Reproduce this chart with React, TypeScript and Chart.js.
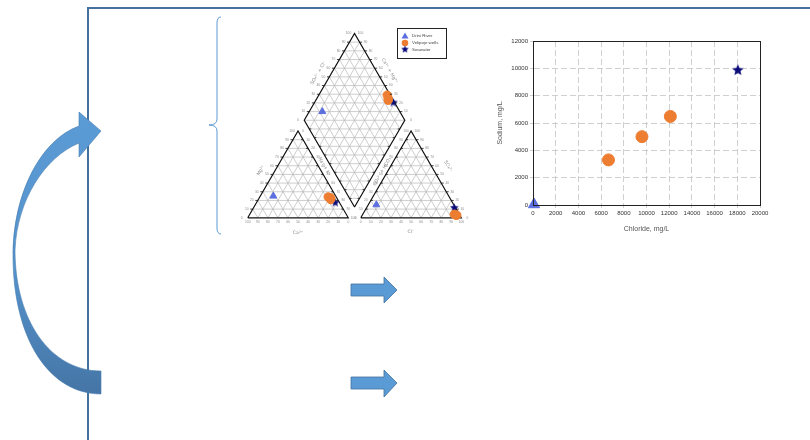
import React, { useEffect, useRef } from "react";
import { Chart, registerables } from "chart.js";
Chart.register(...registerables);

// ---------- series ----------
const seriesNames = ["Drini River", "Velipoje wells", "Seawater"];
const seriesColors = ["#5b6fe0", "#ed7d31", "#0b0b7a"];

// ---------- scatter: chloride vs sodium (mg/L) ----------
const driniChloride = [90];
const driniSodium = [40];
const wellsChloride = [6650, 9600, 12100];
const wellsSodium = [3300, 5000, 6480];
const seaChloride = [18050];
const seaSodium = [9900];
const chlorideTicks = [0, 2000, 4000, 6000, 8000, 10000, 12000, 14000, 16000, 18000, 20000];
const sodiumTicks = [0, 2000, 4000, 6000, 8000, 10000, 12000];

// ---------- piper (% meq/L) ----------
const driniCa = [62];
const driniMg = [25];
const driniNaK = [13];
const driniHCO3 = [77];
const driniSO4 = [15];
const driniCl = [8];

const wellsCa = [6, 7, 8];
const wellsMg = [23, 21, 24];
const wellsNaK = [71, 72, 68];
const wellsHCO3 = [4, 5, 3];
const wellsSO4 = [3, 4, 3];
const wellsCl = [93, 91, 94];

const seaCa = [4];
const seaMg = [18];
const seaNaK = [78];
const seaHCO3 = [1];
const seaSO4 = [12];
const seaCl = [87];

const pctTicks = [0, 10, 20, 30, 40, 50, 60, 70, 80, 90, 100];

// ---------- piper geometry ----------
const GAP = 0.124;
const X0 = 1 + GAP;
const S = Math.sqrt(3) / 2;

function cat(ca: number, mg: number, nak: number) {
  const t = ca + mg + nak;
  return { x: (nak + 0.5 * mg) / t, y: (S * mg) / t };
}
function an(hco3: number, so4: number, cl: number) {
  const t = hco3 + so4 + cl;
  return { x: X0 + (cl + 0.5 * so4) / t, y: (S * so4) / t };
}
function dia(nak: number, clso4: number) {
  const a = nak / 100;
  const b = clso4 / 100;
  return { x: (a + X0 + b) / 2, y: (X0 + b - a) * S };
}

function segs(pairs: any[]) {
  const out: any[] = [];
  pairs.forEach(([a, b]) => {
    out.push(a, b, { x: NaN, y: NaN });
  });
  return out;
}

function makeStar(size: number, color: string) {
  const c = document.createElement("canvas");
  c.width = size;
  c.height = size;
  const g = c.getContext("2d")!;
  const cx = size / 2, cy = size / 2 + 0.5, R = size / 2, r = R * 0.45;
  g.beginPath();
  for (let i = 0; i < 10; i++) {
    const ang = -Math.PI / 2 + (i * Math.PI) / 5;
    const rad = i % 2 === 0 ? R : r;
    g.lineTo(cx + rad * Math.cos(ang), cy + rad * Math.sin(ang));
  }
  g.closePath();
  g.fillStyle = color;
  g.fill();
  return c;
}

const zip = (xs: number[], ys: number[]) => xs.map((x, i) => ({ x, y: ys[i] }));

const FONT = "'Liberation Sans', Arial, sans-serif";
const plain = (v: any) => String(v);

function scatterConfig(): any {
  const star = makeStar(12, seriesColors[2]);
  const frame = {
    id: "frame",
    afterDraw(chart: any) {
      const { ctx, chartArea: a } = chart;
      ctx.save();
      ctx.strokeStyle = "#222";
      ctx.lineWidth = 1;
      ctx.strokeRect(Math.round(a.left) + 0.5, Math.round(a.top) + 0.5, Math.round(a.right - a.left), Math.round(a.bottom - a.top));
      ctx.restore();
    },
  };
  return {
    type: "scatter",
    data: {
      datasets: [
        { label: seriesNames[0], data: zip(driniChloride, driniSodium), pointStyle: "triangle", pointRadius: 6.5, backgroundColor: seriesColors[0], borderColor: seriesColors[0], borderWidth: 1, clip: false },
        { label: seriesNames[1], data: zip(wellsChloride, wellsSodium), pointStyle: "circle", pointRadius: 6, backgroundColor: seriesColors[1], borderColor: seriesColors[1], borderWidth: 1, clip: false },
        { label: seriesNames[2], data: zip(seaChloride, seaSodium), pointStyle: star, pointRadius: 6, backgroundColor: seriesColors[2], borderColor: seriesColors[2], clip: false },
      ],
    },
    options: {
      responsive: false,
      animation: false,
      events: [],
      layout: { padding: { top: 11, right: 20, left: 0, bottom: 0 } },
      plugins: { legend: { display: false }, tooltip: { enabled: false } },
      scales: {
        x: {
          type: "linear",
          min: chlorideTicks[0],
          max: chlorideTicks[chlorideTicks.length - 1],
          ticks: { stepSize: chlorideTicks[1] - chlorideTicks[0], callback: plain, font: { size: 6, family: FONT }, color: "#333", padding: 2, maxRotation: 0, autoSkip: false },
          grid: { color: "#c4c4c4", lineWidth: 0.8, tickLength: 3 },
          border: { color: "#000", width: 1, dash: [6, 3] },
          title: { display: true, text: "Chloride, mg/L", font: { size: 7, family: FONT }, color: "#555", padding: { top: 0, bottom: 12 } },
          afterFit: (s: any) => { s.height = 40; },
        },
        y: {
          type: "linear",
          min: sodiumTicks[0],
          max: sodiumTicks[sodiumTicks.length - 1],
          ticks: { stepSize: sodiumTicks[1] - sodiumTicks[0], callback: plain, font: { size: 6, family: FONT }, color: "#333", padding: 2, autoSkip: false },
          grid: { color: "#c4c4c4", lineWidth: 0.8, tickLength: 3 },
          border: { color: "#000", width: 1, dash: [6, 3] },
          title: { display: true, text: "Sodium, mg/L", font: { size: 7, family: FONT }, color: "#555", padding: { top: 16, bottom: 0 } },
          afterFit: (s: any) => { s.width = 53; },
        },
      },
    },
    plugins: [frame],
  };
}

function piperConfig(): any {
  const star = makeStar(9, seriesColors[2]);
  const inner = pctTicks.filter((t) => t > 0 && t < 100);
  const gridPairs: any[] = [];
  inner.forEach((t) => {
    gridPairs.push([cat(100 - t, t, 0), cat(0, t, 100 - t)]);
    gridPairs.push([cat(100 - t, 0, t), cat(0, 100 - t, t)]);
    gridPairs.push([cat(t, 0, 100 - t), cat(t, 100 - t, 0)]);
    gridPairs.push([an(100 - t, t, 0), an(0, t, 100 - t)]);
    gridPairs.push([an(100 - t, 0, t), an(0, 100 - t, t)]);
    gridPairs.push([an(t, 0, 100 - t), an(t, 100 - t, 0)]);
    gridPairs.push([dia(t, 0), dia(t, 100)]);
    gridPairs.push([dia(0, t), dia(100, t)]);
  });
  const levels = [...inner, 100, ...inner.map((t) => 100 + t)];
  levels.forEach((h) => {
    if (h <= 100) gridPairs.push([dia(100 - h, 0), dia(100, h)]);
    else gridPairs.push([dia(0, h - 100), dia(200 - h, 100)]);
  });
  const outline = [
    cat(100, 0, 0), cat(0, 0, 100), cat(0, 100, 0), cat(100, 0, 0), { x: NaN, y: NaN },
    an(100, 0, 0), an(0, 0, 100), an(0, 100, 0), an(100, 0, 0), { x: NaN, y: NaN },
    dia(100, 0), dia(100, 100), dia(0, 100), dia(0, 0), dia(100, 0),
  ];
  const pts = (ca: number[], mg: number[], nak: number[], hco3: number[], so4: number[], cl: number[]) => {
    const out: any[] = [];
    ca.forEach((_, i) => {
      out.push(cat(ca[i], mg[i], nak[i]));
      out.push(an(hco3[i], so4[i], cl[i]));
      out.push(dia(nak[i], so4[i] + cl[i]));
    });
    return out;
  };

  const decor = {
    id: "piperDecor",
    afterDraw(chart: any) {
      const ctx = chart.ctx;
      const xs = chart.scales.x, ys = chart.scales.y;
      const P = (p: any) => [xs.getPixelForValue(p.x), ys.getPixelForValue(p.y)];
      ctx.save();
      // tick marks
      ctx.strokeStyle = "#111";
      ctx.lineWidth = 0.8;
      const tick = (p: any, dx: number, dy: number) => {
        const [x, y] = P(p);
        ctx.beginPath();
        ctx.moveTo(x, y);
        ctx.lineTo(x + dx, y + dy);
        ctx.stroke();
      };
      inner.forEach((t) => {
        tick(cat(100 - t, t, 0), -2.5, 0);
        tick(an(0, t, 100 - t), 2.5, 0);
        tick(dia(0, t), -2.5, 0);
        tick(dia(t, 100), 2.5, 0);
        tick(dia(t, 0), 2, 0);
        tick(dia(100, t), -2, 0);
        tick(cat(0, t, 100 - t), -2, 0);
        tick(an(100 - t, t, 0), 2, 0);
      });
      // tick labels
      ctx.fillStyle = "#8a8a8a";
      ctx.font = "3.3px " + FONT;
      ctx.textAlign = "center";
      ctx.textBaseline = "middle";
      const lab = (p: any, dx: number, dy: number, s: string) => {
        const [x, y] = P(p);
        ctx.fillText(s, x + dx, y + dy);
      };
      pctTicks.forEach((t) => {
        lab(cat(t, 0, 100 - t), 0, 4.5, String(t));
        lab(cat(100 - t, t, 0), -6, 0, String(t));
        lab(cat(0, t, 100 - t), 5, 0, String(100 - t));
        lab(an(100 - t, 0, t), 0, 4.5, String(t));
        lab(an(0, t, 100 - t), 6, 0, String(t));
        lab(an(100 - t, t, 0), -5, 0, String(t));
        lab(dia(0, t), -6, 0, String(t));
        lab(dia(t, 100), 6, 0, String(100 - t));
      });
      // axis titles
      ctx.fillStyle = "#888";
      ctx.font = "4.6px 'DejaVu Sans', sans-serif";
      const title = (p: any, dx: number, dy: number, rot: number, s: string) => {
        const [x, y] = P(p);
        ctx.save();
        ctx.translate(x + dx, y + dy);
        ctx.rotate(rot);
        ctx.fillText(s, 0, 0);
        ctx.restore();
      };
      const r60 = Math.PI / 3;
      title(cat(50, 0, 50), 0, 15, 0, "Ca²⁺");
      title(an(50, 0, 50), 0, 14, 0, "Cl⁻");
      title(cat(50, 50, 0), -12, -4, -r60, "Mg²⁺");
      title(an(0, 50, 50), 12, -8, r60, "SO₄²⁻");
      title(dia(0, 50), -11, -4, -r60, "SO₄²⁻ + Cl⁻");
      title(dia(50, 100), 10, -6, r60, "Ca²⁺ + Mg²⁺");
      title(dia(50, 0), -5, 3, r60, "Na⁺ + K⁺");
      title(dia(100, 50), 3, 7, -r60, "CO₃²⁻ + HCO₃⁻");

      // legend
      const bx = 172, by = 18, bw = 49, bh = 30;
      ctx.fillStyle = "#fff";
      ctx.fillRect(bx, by, bw, bh);
      ctx.strokeStyle = "#222";
      ctx.lineWidth = 1;
      ctx.strokeRect(bx + 0.5, by + 0.5, bw, bh);
      const ys2 = [26, 33, 39.5];
      ctx.fillStyle = seriesColors[0];
      ctx.beginPath();
      ctx.moveTo(180, ys2[0] - 3.5);
      ctx.lineTo(183.5, ys2[0] + 2.5);
      ctx.lineTo(176.5, ys2[0] + 2.5);
      ctx.closePath();
      ctx.fill();
      ctx.fillStyle = seriesColors[1];
      ctx.beginPath();
      ctx.arc(180, ys2[1], 3.3, 0, Math.PI * 2);
      ctx.fill();
      ctx.drawImage(star, 180 - 4, ys2[2] - 4.5, 8, 8);
      ctx.fillStyle = "#444";
      ctx.font = "4.4px " + FONT;
      ctx.textAlign = "left";
      seriesNames.forEach((n, i) => ctx.fillText(n, 187, ys2[i]));
      ctx.restore();
    },
  };

  const xMin = -18 / 105, yMin = -28 / 105;
  return {
    type: "scatter",
    data: {
      datasets: [
        { label: seriesNames[0], data: pts(driniCa, driniMg, driniNaK, driniHCO3, driniSO4, driniCl), pointStyle: "triangle", pointRadius: 4, backgroundColor: seriesColors[0], borderColor: seriesColors[0], order: 0, clip: false },
        { label: seriesNames[1], data: pts(wellsCa, wellsMg, wellsNaK, wellsHCO3, wellsSO4, wellsCl), pointStyle: "circle", pointRadius: 4.2, backgroundColor: seriesColors[1], borderColor: seriesColors[1], order: 0, clip: false },
        { label: seriesNames[2], data: pts(seaCa, seaMg, seaNaK, seaHCO3, seaSO4, seaCl), pointStyle: star, pointRadius: 4.5, backgroundColor: seriesColors[2], order: 0, clip: false },
        { label: "outline", data: outline, showLine: true, spanGaps: false, pointRadius: 0, borderColor: "#111", borderWidth: 1.2, fill: false, order: 1 },
        { label: "grid", data: segs(gridPairs), showLine: true, spanGaps: false, pointRadius: 0, borderColor: "#b8b8b8", borderWidth: 0.7, fill: false, order: 2 },
      ],
    },
    options: {
      responsive: false,
      animation: false,
      events: [],
      layout: { padding: 0 },
      plugins: { legend: { display: false }, tooltip: { enabled: false } },
      scales: {
        x: { type: "linear", display: false, min: xMin, max: xMin + 260 / 105 },
        y: { type: "linear", display: false, min: yMin, max: yMin + 240 / 105 },
      },
    },
    plugins: [decor],
  };
}

export default function App() {
  const scRef = useRef<HTMLCanvasElement>(null);
  const pipRef = useRef<HTMLCanvasElement>(null);
  useEffect(() => {
    const c1 = new Chart(scRef.current as any, scatterConfig());
    const c2 = new Chart(pipRef.current as any, piperConfig());
    return () => {
      c1.destroy();
      c2.destroy();
    };
  }, []);
  return (
    <div style={{ position: "absolute", left: 0, top: 0, width: 810, height: 440, background: "#fff", overflow: "hidden" }}>
      <svg width={810} height={440} style={{ position: "absolute", left: 0, top: 0 }}>
        <defs>
          <linearGradient id="cg" x1="0" y1="0" x2="0" y2="1">
            <stop offset="0" stopColor="#5b9bd5" />
            <stop offset="0.55" stopColor="#5593cc" />
            <stop offset="1" stopColor="#4575a6" />
          </linearGradient>
        </defs>
        <path d="M87 8 H810 M88 8 V440" stroke="#41719c" strokeWidth={2} fill="none" />
        <path d="M221 17 Q217 17 217 23 V119 Q217 125 209 125 Q217 125 217 131 V228 Q217 234 221 234" stroke="#5b9bd5" strokeWidth={1} fill="none" />
        <path
          d="M101 394 C50 394 13 340 13 255 C13 195 40 140 79 126 L79 112 L101 131 L79 157 L79 143 C45 157 17 200 15 250 C15 320 50 371 101 371 Z"
          fill="url(#cg)"
          stroke="#4a7db0"
          strokeWidth={0.6}
        />
        <path d="M351 284 H384 V277 L397 290 L384 303 V296 H351 Z" fill="#5b9bd5" stroke="#41719c" strokeWidth={0.8} />
        <path d="M351 377 H384 V370 L397 383 L384 397 V389 H351 Z" fill="#5b9bd5" stroke="#41719c" strokeWidth={0.8} />
      </svg>
      <canvas ref={pipRef} width={260} height={240} style={{ position: "absolute", left: 225, top: 10 }} />
      <canvas ref={scRef} width={300} height={215} style={{ position: "absolute", left: 480, top: 30 }} />
    </div>
  );
}
